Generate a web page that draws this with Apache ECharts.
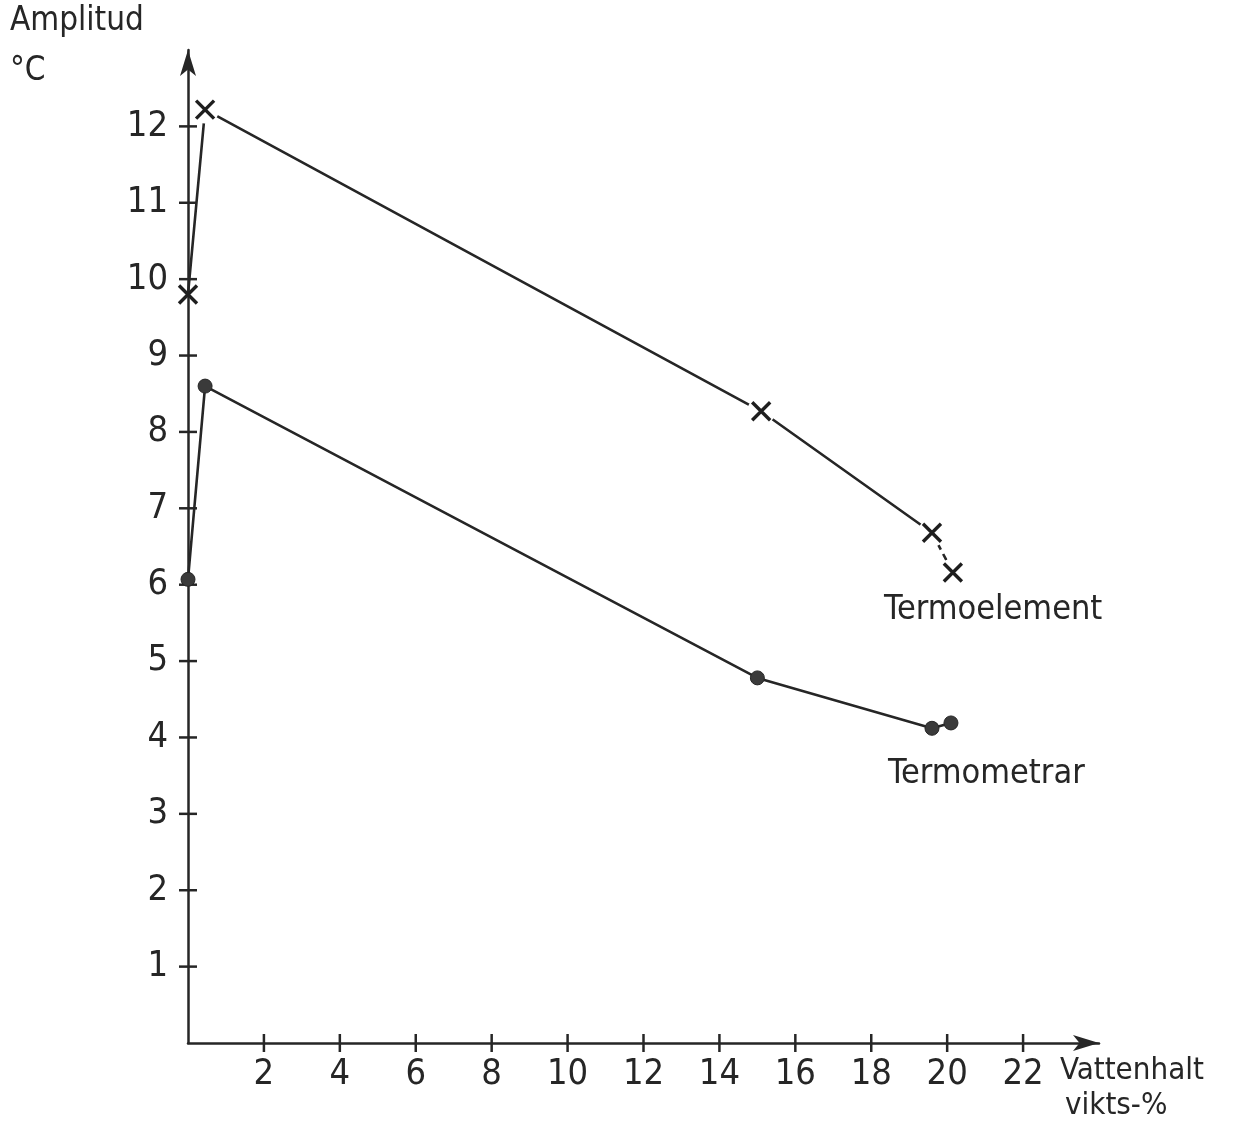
<!DOCTYPE html>
<html>
<head>
<meta charset="utf-8">
<script src="https://cdn.jsdelivr.net/npm/echarts@6/dist/echarts.min.js"></script>
<style>
  html, body { margin: 0; padding: 0; background: #fff; }
  #chart { width: 1247px; height: 1127px; }
</style>
</head>
<body>
<div id="chart"></div>
<script>
// Water content (weight-%) and temperature amplitude (°C)
const moistureTE = [0, 0.45, 15.1, 19.6, 20.15];
const ampTE = [9.8, 12.22, 8.27, 6.68, 6.16];
const moistureTM = [0, 0.45, 15.0, 19.6, 20.1];
const ampTM = [6.07, 8.6, 4.78, 4.12, 4.19];
const xTicks = [2, 4, 6, 8, 10, 12, 14, 16, 18, 20, 22];
const yTicks = [1, 2, 3, 4, 5, 6, 7, 8, 9, 10, 11, 12];

const ink = '#262626';
const textFont = '"DejaVu Sans Condensed", "Liberation Sans Narrow", "DejaVu Sans", sans-serif';
const numFont = '"Liberation Sans Narrow", "DejaVu Sans Condensed", sans-serif';

const pairs = (xs, ys) => xs.map((x, i) => [x, ys[i]]);
const te = pairs(moistureTE, ampTE);
const tm = pairs(moistureTM, ampTM);

const chart = echarts.init(document.getElementById('chart'));
const axisStroke = { color: ink, width: 2.5 };
const TICK_HALF = 9;

// tick marks that cross the axis line (half outside, half inside)
function crossTick(vertical) {
  return function (params, api) {
    const p = api.coord([api.value(0), api.value(1)]);
    const shape = vertical
      ? { x1: p[0], y1: p[1] - TICK_HALF, x2: p[0], y2: p[1] + TICK_HALF }
      : { x1: p[0] - TICK_HALF, y1: p[1], x2: p[0] + TICK_HALF, y2: p[1] };
    return { type: 'line', shape: shape, style: { stroke: ink, lineWidth: 2.5 } };
  };
}

chart.setOption({
  animation: false,
  backgroundColor: '#fff',
  grid: { left: 188, right: 148, top: 50, bottom: 84 },
  xAxis: {
    type: 'value', min: 0, max: 24, interval: 2,
    splitLine: { show: false },
    axisLine: { show: true, lineStyle: axisStroke,
                symbol: ['none', 'arrow'], symbolSize: [12, 26] },
    axisTick: { show: false },
    axisLabel: { show: true, margin: 14, color: ink, fontSize: 36, fontFamily: numFont,
                 customValues: xTicks }
  },
  yAxis: {
    type: 'value', min: 0, max: 13, interval: 1,
    splitLine: { show: false },
    axisLine: { show: true, lineStyle: axisStroke,
                symbol: ['none', 'arrow'], symbolSize: [12, 26] },
    axisTick: { show: false },
    axisLabel: { show: true, margin: 20, color: ink, fontSize: 36, fontFamily: numFont,
                 customValues: yTicks }
  },
  series: [
    {
      type: 'custom', data: xTicks.map((v) => [v, 0]), renderItem: crossTick(true),
      clip: false, silent: true, z: 1
    },
    {
      type: 'custom', data: yTicks.map((v) => [0, v]), renderItem: crossTick(false),
      clip: false, silent: true, z: 1
    },
    {
      name: 'Termoelement', type: 'line', data: te.slice(0, 4),
      showSymbol: false, symbol: 'none',
      lineStyle: { color: ink, width: 2.6 }, z: 2
    },
    {
      name: 'Termoelement (slut)', type: 'line', data: te.slice(3),
      showSymbol: false, symbol: 'none',
      lineStyle: { color: ink, width: 2.6, type: [7, 5] }, z: 2
    },
    {
      // white halo that opens a small gap in the line around each cross
      // (left out on the y axis so the axis stays unbroken)
      type: 'scatter', data: te, symbol: 'circle',
      symbolSize: (v) => (v[0] === 0 ? 0 : 28),
      itemStyle: { color: '#fff', opacity: 1 }, z: 3, silent: true
    },
    {
      type: 'scatter', data: te,
      symbol: 'path://M0,0L10,10M10,0L0,10', symbolSize: 18,
      itemStyle: { color: 'none', borderColor: '#1e1e1e', borderWidth: 3.4, opacity: 1 }, z: 4
    },
    {
      name: 'Termometrar', type: 'line', data: tm,
      symbol: 'circle', symbolSize: 14, showSymbol: true,
      lineStyle: { color: ink, width: 2.6 },
      itemStyle: { color: '#3a3a3a', borderColor: ink, borderWidth: 1 }, z: 2
    }
  ],
  graphic: [
    { type: 'text', left: 10, top: 5,
      style: { text: 'Amplitud', font: '33px ' + textFont, fill: ink } },
    { type: 'text', left: 10, top: 55,
      style: { text: '°C', font: '33px ' + textFont, fill: ink } },
    { type: 'text', left: 1060, top: 1055,
      style: { text: 'Vattenhalt', font: '31px ' + textFont, fill: ink } },
    { type: 'text', left: 1065, top: 1090,
      style: { text: 'vikts-%', font: '31px ' + textFont, fill: ink } },
    { type: 'text', left: 884, top: 593,
      style: { text: 'Termoelement', font: '34px ' + textFont, fill: ink } },
    { type: 'text', left: 888, top: 757,
      style: { text: 'Termometrar', font: '34px ' + textFont, fill: ink } }
  ]
});
</script>
</body>
</html>
